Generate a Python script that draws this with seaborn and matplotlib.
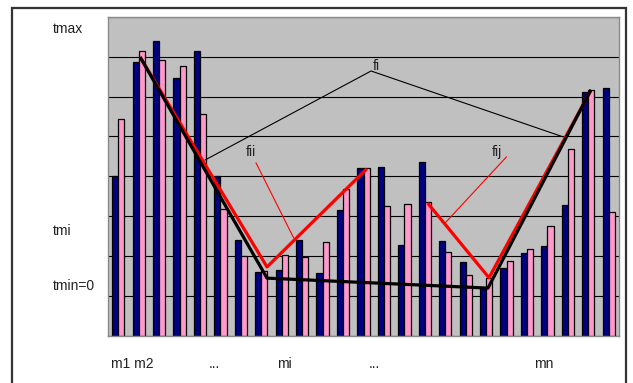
import matplotlib
matplotlib.use("Agg")
import matplotlib.pyplot as plt
from matplotlib.patches import Rectangle
import pandas as pd
import seaborn as sns

# --- data -------------------------------------------------------------
months = [f"m{i}" for i in range(1, 26)]
series_a = [4.00, 6.87, 7.40, 6.47, 7.13, 4.00, 2.40, 1.61, 1.66, 2.40, 1.58, 3.15, 4.20,
            4.23, 2.28, 4.37, 2.37, 1.85, 1.21, 1.70, 2.08, 2.25, 3.29, 6.11, 6.21]
series_b = [5.44, 7.14, 6.92, 6.77, 5.56, 3.19, 2.01, 1.63, 2.02, 1.97, 2.36, 3.68, 4.22,
            3.26, 3.31, 3.35, 2.10, 1.52, 1.45, 1.89, 2.17, 2.76, 4.69, 6.16, 3.11]

# envelope polyline (black) and piecewise fits (red), in category / value units
env_x = [1.07, 7.28, 18.09, 23.13]
env_y = [6.99, 1.45, 1.20, 6.17]
fit1_x = [1.07, 7.28, 12.16]
fit1_y = [6.99, 1.73, 4.19]
fit2_x = [15.14, 18.14, 23.13]
fit2_y = [3.33, 1.46, 6.16]

# callouts: label position and leader line points
fi_label = (12.45, 6.77)
fi_x = [4.25, 12.37, 21.76]
fi_y = [4.41, 6.64, 4.99]
fii_label = (6.50, 4.61)
fii_x = [6.74, 8.58]
fii_y = [4.34, 2.46]
fij_label = (18.51, 4.60)
fij_x = [19.00, 15.99]
fij_y = [4.49, 2.83]

# axis annotations
x_label_pos = [0.70, 4.69, 8.11, 12.51, 20.81]
x_label_txt = ["m1 m2", "...", "mi", "...", "mn"]
y_label_pos = [7.59, 2.53, 1.15]
y_label_txt = ["tmax", "tmi", "tmin=0"]

# --- figure -----------------------------------------------------------
sns.set_style("white")
plt.rcParams["font.family"] = ["Liberation Sans", "DejaVu Sans"]

fig = plt.figure(figsize=(6.33, 3.83), dpi=100)
ax = fig.add_axes([108 / 633, 47 / 383, 511 / 633, 319.3 / 383])

df = pd.DataFrame({
    "month": months * 2,
    "t": series_a + series_b,
    "series": ["a"] * len(months) + ["b"] * len(months),
})

sns.barplot(data=df, x="month", y="t", hue="series", order=months,
            hue_order=["a", "b"], palette=["#000080", "#FF99CC"],
            saturation=1, width=0.6, edgecolor="black", linewidth=0.9,
            errorbar=None, legend=False, ax=ax, zorder=2)

ax.set_facecolor("#C0C0C0")
ax.set_xlim(-0.5, 24.5)
ax.set_ylim(0, 8)
ax.set_yticks(range(0, 9))
ax.yaxis.grid(True, color="black", linewidth=0.8)
ax.set_axisbelow(True)
ax.tick_params(left=False, bottom=False, labelleft=False, labelbottom=False)
ax.set_xlabel("")
ax.set_ylabel("")
for s in ax.spines.values():
    s.set_color("#8a8a8a")
    s.set_linewidth(1.0)

# fitted lines
ax.plot(fit1_x, fit1_y, color="#FF0000", linewidth=2.3, zorder=4,
        solid_capstyle="butt")
ax.plot(fit2_x, fit2_y, color="#FF0000", linewidth=2.3, zorder=4,
        solid_capstyle="butt")
ax.plot(env_x, env_y, color="black", linewidth=2.3, zorder=5,
        solid_capstyle="butt")

# callouts
ax.plot(fi_x, fi_y, color="black", linewidth=0.8, zorder=6)
ax.plot(fii_x, fii_y, color="#FF0000", linewidth=0.8, zorder=6)
ax.plot(fij_x, fij_y, color="#FF0000", linewidth=0.8, zorder=6)
txt_kw = dict(fontsize=10, color="#222222", ha="center", va="center", zorder=7)
ax.text(*fi_label, "fi", **{**txt_kw, "ha": "left"})
ax.text(*fii_label, "fii", **txt_kw)
ax.text(*fij_label, "fij", **txt_kw)

# category labels under the plot
for xp, t in zip(x_label_pos, x_label_txt):
    ax.text(xp, -0.1002, t, transform=ax.get_xaxis_transform(), fontsize=10,
            color="#222222", ha="center", va="baseline", clip_on=False)

# level labels left of the plot
for yp, t in zip(y_label_pos, y_label_txt):
    ax.text(-0.1082, yp, t, transform=ax.get_yaxis_transform(), fontsize=10,
            color="#222222", ha="left", va="baseline", clip_on=False)

# chart border
fig.add_artist(Rectangle((12 / 633, -0.2), (626 - 12) / 633, (383 - 7.5) / 383 + 0.2,
                         transform=fig.transFigure, fill=False,
                         edgecolor="#333333", linewidth=1.6))

fig.savefig("out.png", dpi=100)
